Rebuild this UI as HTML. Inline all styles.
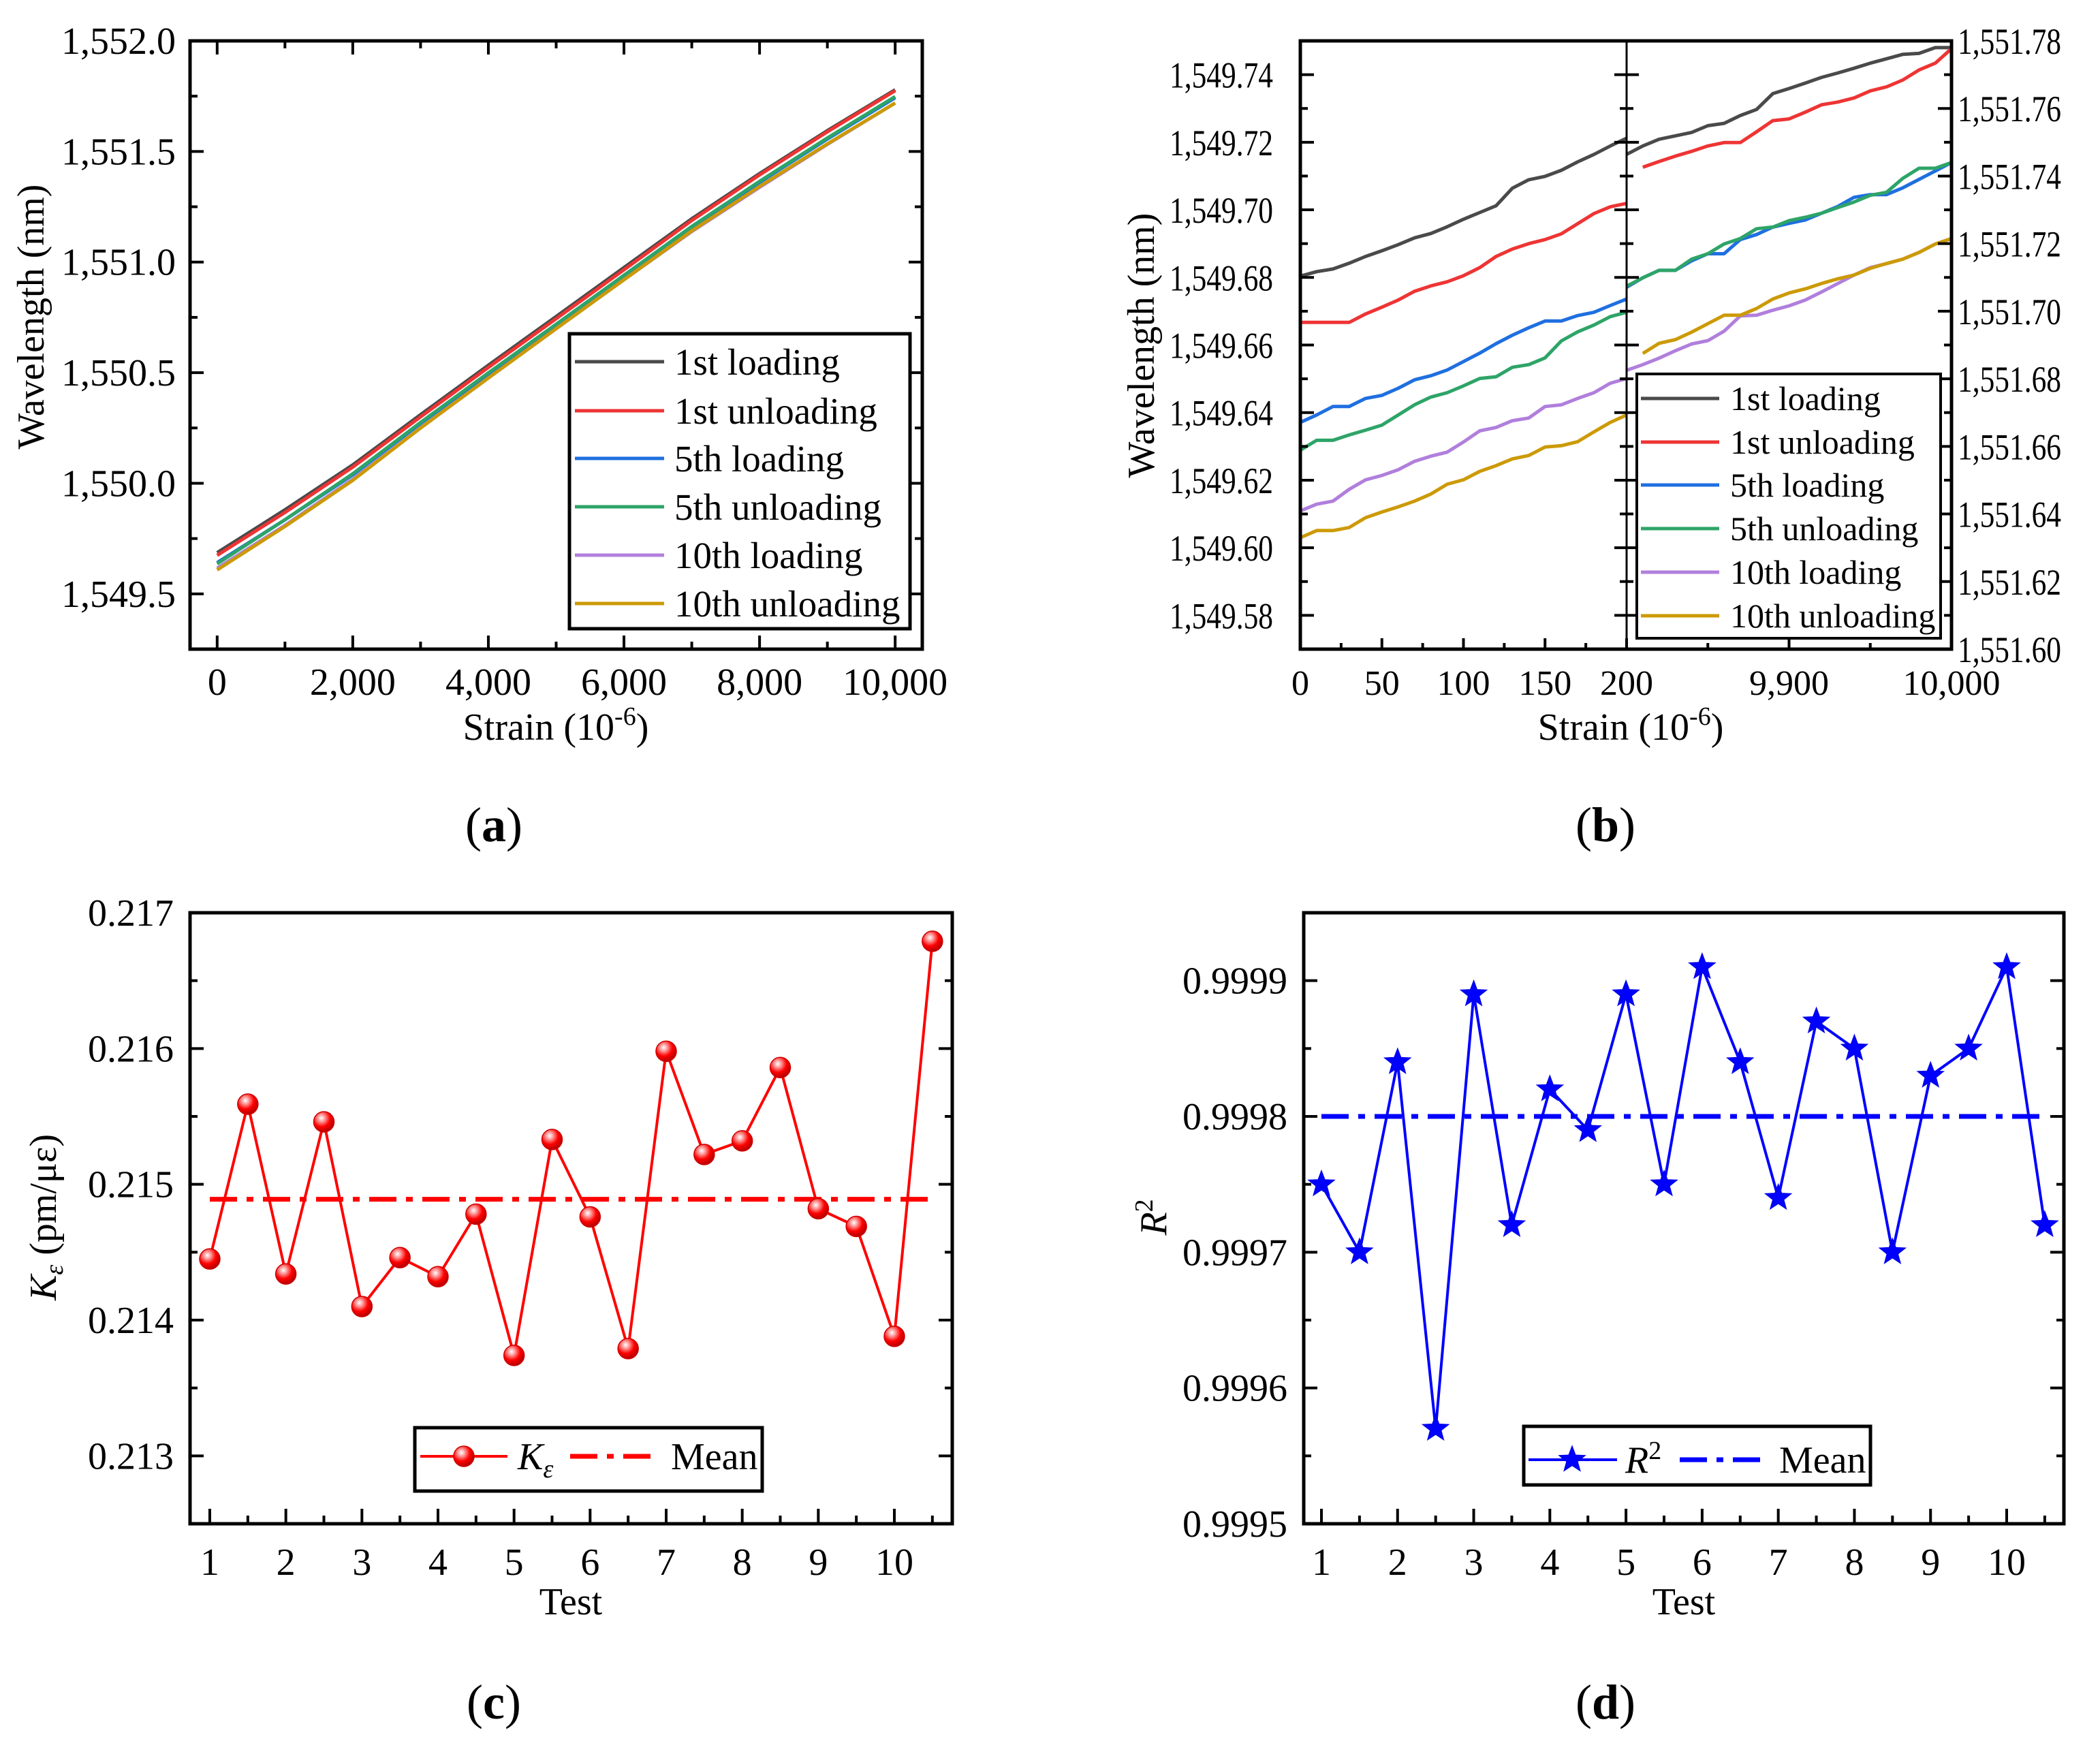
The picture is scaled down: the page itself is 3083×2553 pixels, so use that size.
<!DOCTYPE html>
<html><head><meta charset="utf-8"><style>
html,body{margin:0;padding:0;background:#fff;}
svg{display:block;font-family:"Liberation Serif","DejaVu Serif",serif;}
</style></head><body>
<svg id="fig" width="3083" height="2553" viewBox="0 0 3083 2553" xmlns="http://www.w3.org/2000/svg">
<defs>
<radialGradient id="ballGrad" cx="0.38" cy="0.32" r="0.7">
<stop offset="0" stop-color="#ffffff"/><stop offset="0.25" stop-color="#ff9a9a"/><stop offset="0.6" stop-color="#ff0000"/><stop offset="1" stop-color="#b00000"/>
</radialGradient>
<clipPath id="clipA"><rect x="279" y="60" width="1075" height="893"/></clipPath>
<clipPath id="clipBL"><rect x="1909" y="60" width="479" height="893"/></clipPath>
<clipPath id="clipBR"><rect x="2388" y="60" width="477" height="893"/></clipPath>
</defs>
</svg>
<script>
// ---------- Panel (a) data ----------
const aStrain = [0,1000,2000,3000,4000,5000,6000,7000,8000,9000,10000];
const a1stLoad   = [1549.686,1549.880,1550.083,1550.310,1550.534,1550.754,1550.975,1551.196,1551.400,1551.594,1551.779];
const a1stUnload = [1549.674,1549.868,1550.073,1550.300,1550.524,1550.744,1550.965,1551.188,1551.394,1551.589,1551.775];
const a5thLoad   = [1549.641,1549.835,1550.038,1550.270,1550.494,1550.714,1550.935,1551.156,1551.360,1551.556,1551.743];
const a5thUnload = [1549.636,1549.835,1550.043,1550.275,1550.499,1550.719,1550.940,1551.161,1551.365,1551.561,1551.748];
const a10thLoad  = [1549.616,1549.810,1550.018,1550.250,1550.476,1550.699,1550.920,1551.138,1551.338,1551.532,1551.719];
const a10thUnload= [1549.608,1549.805,1550.013,1550.250,1550.476,1550.699,1550.920,1551.141,1551.342,1551.534,1551.719];
const seriesNames = ["1st loading","1st unloading","5th loading","5th unloading","10th loading","10th unloading"];
const aXTicks = [0,2000,4000,6000,8000,10000];
const aYTicks = [1549.5,1550.0,1550.5,1551.0,1551.5,1552.0];

// ---------- Panel (b) data ----------
const bStrainL = [0,10,20,30,40,50,60,70,80,90,100,110,120,130,140,150,160,170,180,190,200];
const bL1stLoad   = [1549.6804,1549.6817,1549.6825,1549.6842,1549.6862,1549.6879,1549.6897,1549.6917,1549.6930,1549.6950,1549.6972,1549.6992,1549.7012,1549.7064,1549.7089,1549.7099,1549.7117,1549.7142,1549.7164,1549.7189,1549.7212];
const bL1stUnload = [1549.6667,1549.6667,1549.6667,1549.6667,1549.6692,1549.6712,1549.6733,1549.6759,1549.6775,1549.6787,1549.6805,1549.6829,1549.6862,1549.6884,1549.6900,1549.6912,1549.6929,1549.6959,1549.6989,1549.7009,1549.7019];
const bL5thLoad   = [1549.6371,1549.6393,1549.6418,1549.6418,1549.6442,1549.6451,1549.6472,1549.6497,1549.6509,1549.6526,1549.6551,1549.6576,1549.6604,1549.6629,1549.6651,1549.6671,1549.6671,1549.6687,1549.6697,1549.6717,1549.6736];
const bL5thUnload = [1549.6289,1549.6318,1549.6318,1549.6334,1549.6348,1549.6363,1549.6393,1549.6423,1549.6446,1549.6459,1549.6479,1549.6501,1549.6506,1549.6534,1549.6542,1549.6562,1549.6612,1549.6639,1549.6659,1549.6684,1549.6697];
const bL10thLoad  = [1549.6109,1549.6129,1549.6138,1549.6173,1549.6201,1549.6214,1549.6231,1549.6256,1549.6271,1549.6283,1549.6313,1549.6346,1549.6356,1549.6376,1549.6384,1549.6418,1549.6423,1549.6442,1549.6459,1549.6487,1549.6501];
const bL10thUnload= [1549.6030,1549.6051,1549.6051,1549.6060,1549.6089,1549.6106,1549.6121,1549.6138,1549.6159,1549.6188,1549.6201,1549.6226,1549.6243,1549.6263,1549.6273,1549.6298,1549.6302,1549.6314,1549.6343,1549.6371,1549.6393];
const bStrainR = [9800,9810,9820,9830,9840,9850,9860,9870,9880,9890,9900,9910,9920,9930,9940,9950,9960,9970,9980,9990,10000];
const bR1stLoad   = [1551.7464,1551.7489,1551.7509,1551.7519,1551.7529,1551.7549,1551.7556,1551.7579,1551.7597,1551.7644,1551.7659,1551.7675,1551.7692,1551.7705,1551.7719,1551.7734,1551.7747,1551.7760,1551.7763,1551.7780,1551.7780];
const bR1stUnload = [null,1551.7426,1551.7443,1551.7459,1551.7473,1551.7489,1551.7499,1551.7499,1551.7531,1551.7564,1551.7569,1551.7589,1551.7611,1551.7619,1551.7631,1551.7652,1551.7664,1551.7684,1551.7714,1551.7734,1551.7777];
const bR5thLoad   = [1551.7071,1551.7099,1551.7121,1551.7121,1551.7149,1551.7170,1551.7170,1551.7212,1551.7227,1551.7249,1551.7260,1551.7270,1551.7290,1551.7310,1551.7337,1551.7345,1551.7345,1551.7365,1551.7390,1551.7415,1551.7440];
const bR5thUnload = [1551.7074,1551.7099,1551.7121,1551.7121,1551.7154,1551.7170,1551.7199,1551.7215,1551.7244,1551.7249,1551.7268,1551.7278,1551.7290,1551.7307,1551.7323,1551.7343,1551.7352,1551.7393,1551.7423,1551.7423,1551.7440];
const bR10thLoad  = [1551.6825,1551.6842,1551.6861,1551.6883,1551.6903,1551.6913,1551.6941,1551.6986,1551.6988,1551.7003,1551.7016,1551.7033,1551.7057,1551.7082,1551.7107,1551.7129,1551.7141,1551.7154,1551.7174,1551.7199,1551.7215];
const bR10thUnload= [null,1551.6875,1551.6905,1551.6916,1551.6938,1551.6963,1551.6988,1551.6988,1551.7008,1551.7036,1551.7054,1551.7066,1551.7082,1551.7096,1551.7107,1551.7127,1551.7141,1551.7154,1551.7174,1551.7199,1551.7215];
const bYTicksL = [1549.58,1549.60,1549.62,1549.64,1549.66,1549.68,1549.70,1549.72,1549.74];
const bYTicksR = [1551.60,1551.62,1551.64,1551.66,1551.68,1551.70,1551.72,1551.74,1551.76,1551.78];
const bXTicksL = [0,50,100,150,200];
const bXTicksR = [9900,10000];

// ---------- Panel (c) data ----------
const tests = [1,1.5,2,2.5,3,3.5,4,4.5,5,5.5,6,6.5,7,7.5,8,8.5,9,9.5,10,10.5];
const kValues = [0.21445,0.21559,0.21434,0.21546,0.21410,0.21446,0.21432,0.21478,0.21374,0.21533,0.21476,0.21379,0.21598,0.21522,0.21532,0.21586,0.21482,0.21469,0.21388,0.21679];
const kMean = [0.21489];
const cYTicks = [0.213,0.214,0.215,0.216,0.217];
const testTicks = [1,2,3,4,5,6,7,8,9,10];

// ---------- Panel (d) data ----------
const r2Values = [0.99975,0.99970,0.99984,0.99957,0.99989,0.99972,0.99982,0.99979,0.99989,0.99975,0.99991,0.99984,0.99974,0.99987,0.99985,0.99970,0.99983,0.99985,0.99991,0.99972];
const r2Mean = [0.99980];
const dYTicks = [0.9995,0.9996,0.9997,0.9998,0.9999];

const colors = ["#4a4a4a","#ee3434","#1f6fe0","#2ea468","#b07fdc","#cc9a06"];
const NS = "http://www.w3.org/2000/svg";
const svg = document.getElementById('fig');

function mk(tag, attrs, parent){
  const e = document.createElementNS(NS, tag);
  for (const k in attrs) e.setAttribute(k, attrs[k]);
  (parent||svg).appendChild(e);
  return e;
}
function scale(d0,d1,r0,r1){ return v => r0 + (v-d0)/(d1-d0)*(r1-r0); }
function fmt(v, dec){
  const s = v.toFixed(dec); const parts = s.split('.');
  const int = parts[0].replace(/\B(?=(\d{3})+(?!\d))/g, ',');
  return parts.length>1 ? int+'.'+parts[1] : int;
}
function txt(x,y,str,size,anchor,parent,name){
  const t = mk('text',{x:x,y:y,'font-size':size,'text-anchor':anchor||'middle',fill:'#000'},parent);
  t.textContent = str;
  
  
  return t;
}
function pathFrom(xs, ys, sx, sy){
  let d = ''; let pen = false;
  for (let i=0;i<xs.length;i++){
    if (ys[i]===null){ pen=false; continue; }
    d += (pen?'L':'M') + sx(xs[i]).toFixed(1) + ',' + sy(ys[i]).toFixed(1);
    pen = true;
  }
  return d;
}
function frame(x0,y0,x1,y1,name){
  const r = mk('rect',{x:x0,y:y0,width:x1-x0,height:y1-y0,fill:'none',stroke:'#000','stroke-width':5});
  
  
}
function tick(x1,y1,x2,y2,parent){
  mk('line',{x1:x1,y1:y1,x2:x2,y2:y2,stroke:'#000','stroke-width':4},parent);
}

// ================= Panel (a) =================
(function(){
  const g = mk('g',{});
  
  
  const X0=279,X1=1354,Y0=60,Y1=953;
  const sx = scale(-400,10400,X0,X1), sy = scale(1549.25,1552.0,Y1,Y0);
  const data=[a1stLoad,a1stUnload,a5thLoad,a5thUnload,a10thLoad,a10thUnload];
  const lg = mk('g',{'clip-path':'url(#clipA)'},g);
  data.forEach((arr,i)=>{
    const p = mk('path',{d:pathFrom(aStrain,arr,sx,sy),fill:'none',stroke:colors[i],'stroke-width':5,'stroke-linejoin':'round'},lg);
    
    
  });
  frame(X0,Y0,X1,Y1,'panel-a-frame');
  aXTicks.forEach(v=>{ tick(sx(v),Y1,sx(v),Y1-20,g); tick(sx(v),Y0,sx(v),Y0+20,g); txt(sx(v),1020,fmt(v,0),56,'middle',g,'x-tick-label'); });
  for(let v=1000;v<10000;v+=2000){ tick(sx(v),Y1,sx(v),Y1-11,g); tick(sx(v),Y0,sx(v),Y0+11,g); }
  aYTicks.forEach(v=>{ tick(X0,sy(v),X0+20,sy(v),g); tick(X1,sy(v),X1-20,sy(v),g); txt(258,sy(v)+19,fmt(v,1),56,'end',g,'y-tick-label'); });
  for(let v=1549.75;v<1552;v+=0.5){ tick(X0,sy(v),X0+11,sy(v),g); tick(X1,sy(v),X1-11,sy(v),g); }
  const xt = txt(816,1086,'Strain (10',56,'middle',g,'x-axis-title');
  const sup = mk('tspan',{dy:-22,'font-size':38},xt); sup.textContent='-6';
  const cl = mk('tspan',{dy:22},xt); cl.textContent=')';
  const yt = txt(0,0,'Wavelength (nm)',56,'middle',g,'y-axis-title');
  yt.setAttribute('transform','translate(64,465) rotate(-90)');
  const L = mk('g',{},g);  
  mk('rect',{x:836,y:490,width:500,height:433,fill:'#fff',stroke:'#000','stroke-width':5},L);
  const ly=[531,603,673,744,815,886];
  seriesNames.forEach((n,i)=>{
    const e = mk('line',{x1:844,y1:ly[i],x2:975,y2:ly[i],stroke:colors[i],'stroke-width':5},L);
     
    txt(990,ly[i]+19,n,55,'start',L,'legend-label');
  });
  const t = txt(725,1235,'',72,'middle',g,'panel-label-a');
  const p1=mk('tspan',{},t); p1.textContent='(';
  const p2=mk('tspan',{'font-weight':'bold'},t); p2.textContent='a';
  const p3=mk('tspan',{},t); p3.textContent=')';
})();

// ================= Panel (b) =================
(function(){
  const g = mk('g',{});
  
  
  const XL=1909,XM=2388,XR=2865,Y0=60,Y1=953;
  const sxL = scale(0,200,XL,XM), sxR = scale(9800,10000,XM,XR);
  const syL = scale(1549.57,1549.75,Y1,Y0), syR = scale(1551.60,1551.78,Y1,Y0);
  const dl=[bL1stLoad,bL1stUnload,bL5thLoad,bL5thUnload,bL10thLoad,bL10thUnload];
  const dr=[bR1stLoad,bR1stUnload,bR5thLoad,bR5thUnload,bR10thLoad,bR10thUnload];
  const gl = mk('g',{'clip-path':'url(#clipBL)'},g), gr = mk('g',{'clip-path':'url(#clipBR)'},g);
  dl.forEach((arr,i)=>{
    const p = mk('path',{d:pathFrom(bStrainL,arr,sxL,syL),fill:'none',stroke:colors[i],'stroke-width':5,'stroke-linejoin':'round'},gl);
    
    
  });
  dr.forEach((arr,i)=>{
    const p = mk('path',{d:pathFrom(bStrainR,arr,sxR,syR),fill:'none',stroke:colors[i],'stroke-width':5,'stroke-linejoin':'round'},gr);
    
    
  });
  frame(XL,Y0,XR,Y1,'panel-b-frame');
  mk('line',{x1:XM,y1:Y0,x2:XM,y2:Y1,stroke:'#000','stroke-width':3},g);
  bYTicksL.forEach(v=>{
    tick(XL,syL(v),XL+20,syL(v),g); tick(XM-18,syL(v),XM+18,syL(v),g);
    const t = txt(1869,syL(v)+19,fmt(v,2),54,'end',g,'y-tick-label-left');
    t.setAttribute('textLength',152); t.setAttribute('lengthAdjust','spacingAndGlyphs');
  });
  for(let v=1549.57;v<1549.75;v+=0.02){ tick(XL,syL(v),XL+11,syL(v),g); tick(XM-10,syL(v),XM+10,syL(v),g); }
  bYTicksR.forEach(v=>{
    tick(XR,syR(v),XR-20,syR(v),g);
    const t = txt(2874,syR(v)+19,fmt(v,2),54,'start',g,'y-tick-label-right');
    t.setAttribute('textLength',152); t.setAttribute('lengthAdjust','spacingAndGlyphs');
  });
  for(let v=1551.61;v<1551.78;v+=0.02) tick(XR,syR(v),XR-11,syR(v),g);
  bXTicksL.forEach(v=>{ tick(sxL(v),Y1,sxL(v),Y1-16,g); txt(sxL(v),1020,fmt(v,0),52,'middle',g,'x-tick-label-left'); });
  for(let v=25;v<200;v+=50) tick(sxL(v),Y1,sxL(v),Y1-9,g);
  bXTicksR.forEach(v=>{ tick(sxR(v),Y1,sxR(v),Y1-16,g); txt(sxR(v),1020,fmt(v,0),52,'middle',g,'x-tick-label-right'); });
  [9850,9950].forEach(v=>tick(sxR(v),Y1,sxR(v),Y1-9,g));
  const xt = txt(2394,1086,'Strain (10',56,'middle',g,'x-axis-title');
  const sup = mk('tspan',{dy:-22,'font-size':38},xt); sup.textContent='-6';
  const cl = mk('tspan',{dy:22},xt); cl.textContent=')';
  const yt = txt(0,0,'Wavelength (nm)',56,'middle',g,'y-axis-title');
  yt.setAttribute('transform','translate(1694,507) rotate(-90)');
  const L = mk('g',{},g);  
  mk('rect',{x:2403,y:549,width:446,height:388,fill:'#fff',stroke:'#000','stroke-width':4},L);
  const ly=[585,649,712,776,840,904];
  seriesNames.forEach((n,i)=>{
    const e = mk('line',{x1:2409,y1:ly[i],x2:2524,y2:ly[i],stroke:colors[i],'stroke-width':5},L);
     
    txt(2540,ly[i]+17,n,50,'start',L,'legend-label');
  });
  const t = txt(2357,1235,'',72,'middle',g,'panel-label-b');
  const p1=mk('tspan',{},t); p1.textContent='(';
  const p2=mk('tspan',{'font-weight':'bold'},t); p2.textContent='b';
  const p3=mk('tspan',{},t); p3.textContent=')';
})();

function testAxis(g,sx,X0,X1,Y1){
  testTicks.forEach(v=>{ tick(sx(v),Y1,sx(v),Y1-22,g); });
  for(let v=1.5;v<=10.5;v+=1) tick(sx(v),Y1,sx(v),Y1-12,g);
}
function star(cx,cy,R,parent){
  let d='';
  for(let k=0;k<10;k++){
    const r = k%2===0?R:R*0.42;
    const a = -Math.PI/2 + k*Math.PI/5;
    d += (k?'L':'M') + (cx+r*Math.cos(a)).toFixed(1)+','+(cy+r*Math.sin(a)).toFixed(1);
  }
  return mk('path',{d:d+'Z',fill:'#0000ff',stroke:'#0000ee','stroke-width':2},parent);
}

// ================= Panel (c) =================
(function(){
  const g = mk('g',{});
  
  
  const X0=279,X1=1398,Y0=1340,Y1=2237;
  const sx = scale(1,10,308,1313), sy = scale(0.2125,0.217,Y1,Y0);
  const m = mk('line',{x1:sx(1),y1:sy(kMean[0]),x2:sx(10.5),y2:sy(kMean[0]),stroke:'#ff0000','stroke-width':7,'stroke-dasharray':'40 14 10 14'},g);
   
  const p = mk('path',{d:pathFrom(tests,kValues,sx,sy),fill:'none',stroke:'#ff0000','stroke-width':4},g);
   
  tests.forEach((v,i)=>{
    const c = mk('circle',{cx:sx(v),cy:sy(kValues[i]),r:15,fill:'url(#ballGrad)',stroke:'#cc0000','stroke-width':1.5},g);
     
  });
  frame(X0,Y0,X1,Y1,'panel-c-frame');
  testAxis(g,sx,X0,X1,Y1);
  testTicks.forEach(v=>txt(sx(v),2312,String(v),56,'middle',g,'x-tick-label'));
  cYTicks.forEach(v=>{ tick(X0,sy(v),X0+20,sy(v),g); tick(X1,sy(v),X1-20,sy(v),g); txt(255,sy(v)+19,v.toFixed(3),56,'end',g,'y-tick-label'); });
  for(let v=0.2125;v<0.217;v+=0.001){ tick(X0,sy(v),X0+11,sy(v),g); tick(X1,sy(v),X1-11,sy(v),g); }
  txt(838,2370,'Test',56,'middle',g,'x-axis-title');
  const yt = txt(0,0,'',56,'middle',g,'y-axis-title');
  yt.setAttribute('transform','translate(82,1787) rotate(-90)');
  const a=mk('tspan',{'font-style':'italic'},yt); a.textContent='K';
  const b=mk('tspan',{'font-style':'italic','font-size':38,dy:10},yt); b.textContent='ε';
  const c2=mk('tspan',{dy:-10},yt); c2.textContent=' (pm/με)';
  const L = mk('g',{},g);  
  mk('rect',{x:609,y:2096,width:510,height:93,fill:'#fff',stroke:'#000','stroke-width':5},L);
  mk('line',{x1:617,y1:2138,x2:745,y2:2138,stroke:'#ff0000','stroke-width':4},L);
  mk('circle',{cx:681,cy:2138,r:15,fill:'url(#ballGrad)',stroke:'#cc0000','stroke-width':1.5},L);
  const lt = txt(760,2157,'',56,'start',L,'legend-label-k');
  const k1=mk('tspan',{'font-style':'italic'},lt); k1.textContent='K';
  const k2=mk('tspan',{'font-style':'italic','font-size':38,dy:12},lt); k2.textContent='ε';
  mk('line',{x1:837,y1:2138,x2:962,y2:2138,stroke:'#ff0000','stroke-width':7,'stroke-dasharray':'40 14 10 14'},L);
  txt(985,2157,'Mean',56,'start',L,'legend-label-mean');
  const t = txt(725,2523,'',72,'middle',g,'panel-label-c');
  const p1=mk('tspan',{},t); p1.textContent='(';
  const p2=mk('tspan',{'font-weight':'bold'},t); p2.textContent='c';
  const p3=mk('tspan',{},t); p3.textContent=')';
})();

// ================= Panel (d) =================
(function(){
  const g = mk('g',{});
  
  
  const X0=1914,X1=3030,Y0=1340,Y1=2237;
  const sx = scale(1,10,1940,2946), sy = scale(0.9995,0.99995,Y1,Y0);
  const m = mk('line',{x1:sx(1),y1:sy(r2Mean[0]),x2:sx(10.5),y2:sy(r2Mean[0]),stroke:'#0000ff','stroke-width':7,'stroke-dasharray':'40 14 10 14'},g);
   
  const p = mk('path',{d:pathFrom(tests,r2Values,sx,sy),fill:'none',stroke:'#0000ff','stroke-width':4},g);
   
  tests.forEach((v,i)=>{
    const s = star(sx(v),sy(r2Values[i]),19,g);
     
  });
  frame(X0,Y0,X1,Y1,'panel-d-frame');
  testAxis(g,sx,X0,X1,Y1);
  testTicks.forEach(v=>txt(sx(v),2312,String(v),56,'middle',g,'x-tick-label'));
  dYTicks.forEach(v=>{ tick(X0,sy(v),X0+20,sy(v),g); tick(X1,sy(v),X1-20,sy(v),g); txt(1890,sy(v)+19,v.toFixed(4),56,'end',g,'y-tick-label'); });
  for(let v=0.99955;v<0.99995;v+=0.0001){ tick(X0,sy(v),X0+11,sy(v),g); tick(X1,sy(v),X1-11,sy(v),g); }
  txt(2472,2370,'Test',56,'middle',g,'x-axis-title');
  const yt = txt(0,0,'',56,'middle',g,'y-axis-title');
  yt.setAttribute('transform','translate(1712,1787) rotate(-90)');
  const a=mk('tspan',{'font-style':'italic'},yt); a.textContent='R';
  const b=mk('tspan',{'font-size':38,dy:-20},yt); b.textContent='2';
  const L = mk('g',{},g);  
  mk('rect',{x:2237,y:2094,width:509,height:86,fill:'#fff',stroke:'#000','stroke-width':5},L);
  mk('line',{x1:2244,y1:2143,x2:2374,y2:2143,stroke:'#0000ff','stroke-width':4},L);
  star(2308,2143,19,L);
  const lt = txt(2386,2162,'',56,'start',L,'legend-label-r2');
  const r1=mk('tspan',{'font-style':'italic'},lt); r1.textContent='R';
  const r2=mk('tspan',{'font-size':38,dy:-20},lt); r2.textContent='2';
  mk('line',{x1:2466,y1:2143,x2:2586,y2:2143,stroke:'#0000ff','stroke-width':7,'stroke-dasharray':'40 14 10 14'},L);
  txt(2612,2162,'Mean',56,'start',L,'legend-label-mean');
  const t = txt(2357,2523,'',72,'middle',g,'panel-label-d');
  const p1=mk('tspan',{},t); p1.textContent='(';
  const p2=mk('tspan',{'font-weight':'bold'},t); p2.textContent='d';
  const p3=mk('tspan',{},t); p3.textContent=')';
})();
</script>
</body></html>
